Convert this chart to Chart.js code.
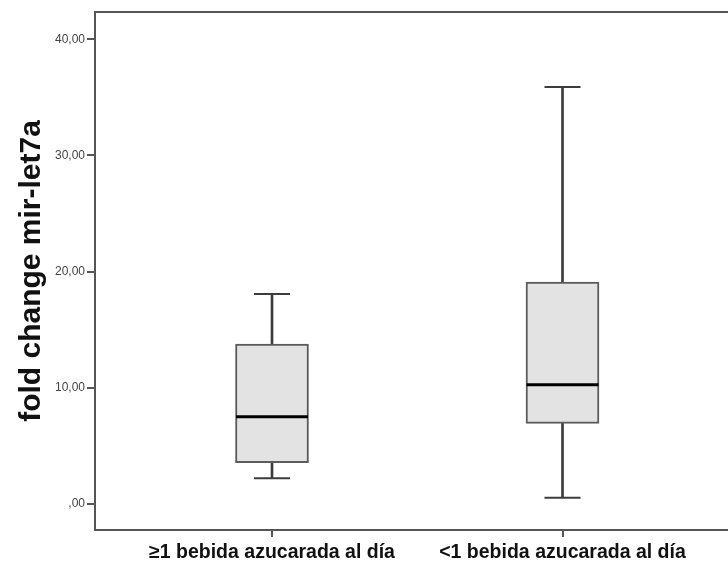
<!DOCTYPE html>
<html>
<head>
<meta charset="utf-8">
<script src="https://cdn.jsdelivr.net/npm/chart.js@4"></script>
<style>
  html, body { margin: 0; padding: 0; background: #fff; overflow: hidden; }
  canvas { display: block; }
</style>
</head>
<body>
<canvas id="c" width="728" height="564"></canvas>
<script>
// box plot values
const categories  = ['\u22651 bebida azucarada al d\u00eda', '<1 bebida azucarada al d\u00eda'];
const catX        = [1, 2];
const whiskerLow  = [2.21, 0.54];
const q1          = [3.55, 6.94];
const median      = [7.51, 10.27];
const q3          = [13.77, 19.1];
const whiskerHigh = [18.07, 35.9];
const yTicks      = [0, 10, 20, 30, 40];
const yTickLabels = [',00', '10,00', '20,00', '30,00', '40,00'];

const AXIS = '#555555';
const WHISK = '#3c3c3c';

const pts = (ys) => catX.map((x, k) => ({ x, y: ys[k] }));
const ranges = (lo, hi) => catX.map((x, k) => ({ x, y: [lo[k], hi[k]] }));

const xMin = 0.3907, xMax = 2.5697;

// fixed axis sizes, no extra label padding from the layout
const fixSize = (w, h) => s => {
  if (w != null) s.width = w;
  if (h != null) s.height = h;
  s.paddingLeft = s.paddingRight = s.paddingTop = s.paddingBottom = 0;
};

new Chart(document.getElementById('c'), {
  type: 'bar',
  data: {
    datasets: [
      {
        type: 'scatter', label: 'median', order: 0,
        data: pts(median),
        pointStyle: 'line', pointRadius: 36, pointHoverRadius: 36,
        borderColor: '#000', pointBorderWidth: 3, borderWidth: 3,
      },
      {
        type: 'scatter', label: 'caps', order: 1,
        data: pts(whiskerHigh).concat(pts(whiskerLow)),
        pointStyle: 'line', pointRadius: 18, pointHoverRadius: 18,
        borderColor: WHISK, pointBorderWidth: 2, borderWidth: 2,
      },
      {
        type: 'bar', label: 'box', order: 2,
        data: ranges(q1, q3),
        grouped: false, barThickness: 73,
        backgroundColor: '#e3e3e3', borderColor: '#5c5c5c',
        borderWidth: 2, borderSkipped: false,
      },
      {
        type: 'bar', label: 'whisker', order: 3,
        data: ranges(whiskerLow, whiskerHigh),
        grouped: false, barThickness: 2,
        backgroundColor: WHISK, borderWidth: 0,
      },
    ]
  },
  options: {
    responsive: false,
    animation: false,
    devicePixelRatio: 1,
    layout: { padding: 0, autoPadding: false },
    plugins: { legend: { display: false }, tooltip: { enabled: false } },
    scales: {
      x: {
        type: 'linear', position: 'bottom',
        min: xMin, max: xMax, offset: false,
        afterBuildTicks: s => { s.ticks = catX.map(v => ({ value: v })); },
        afterFit: fixSize(null, 34),
        ticks: {
          autoSkip: false, maxRotation: 0, padding: 4,
          color: '#111',
          font: { family: 'Liberation Sans, Arial, sans-serif', size: 19.5, weight: 'bold' },
          callback: (v, i) => categories[i],
        },
        grid: { drawOnChartArea: false, offset: false, tickLength: 7, color: AXIS, lineWidth: 2 },
        border: { display: true, color: AXIS, width: 2 },
      },
      xTop: {
        type: 'linear', axis: 'x', position: 'top',
        min: xMin, max: xMax, offset: false,
        afterFit: fixSize(null, 12),
        ticks: { display: false },
        grid: { display: false },
        border: { display: true, color: AXIS, width: 2 },
      },
      y: {
        type: 'linear', min: -2.24, max: 42.35,
        afterBuildTicks: s => { s.ticks = yTicks.map(v => ({ value: v })); },
        afterFit: fixSize(95, null),
        ticks: {
          padding: 2, color: '#444',
          font: { family: 'Liberation Sans, Arial, sans-serif', size: 12 },
          callback: (v, i) => yTickLabels[i],
        },
        grid: { drawOnChartArea: false, tickLength: 8, color: AXIS, lineWidth: 2 },
        border: { display: true, color: AXIS, width: 2 },
        title: {
          display: true, text: 'fold change mir-let7a', color: '#111',
          font: { family: 'Liberation Sans, Arial, sans-serif', size: 30, weight: 'bold' },
          padding: { top: 14, bottom: 0 },
        },
      },
    },
  },
});
</script>
</body>
</html>
